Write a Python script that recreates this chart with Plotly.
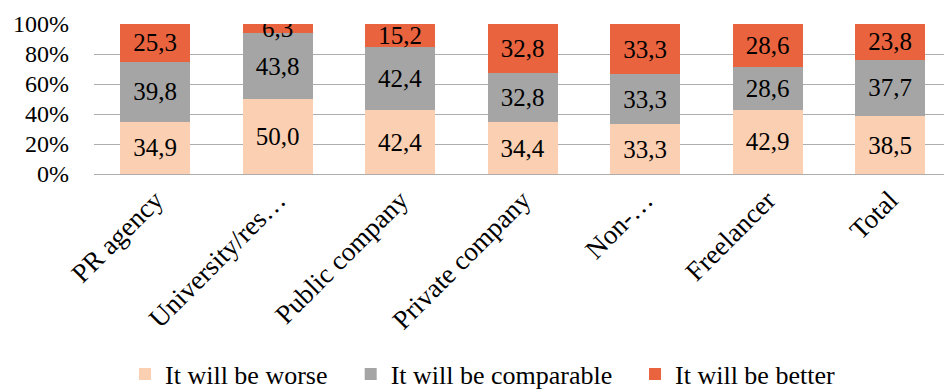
import plotly.graph_objects as go

categories = ["PR agency", "University/res…", "Public company", "Private company",
              "Non-…", "Freelancer", "Total"]
worse = [34.9, 50.0, 42.4, 34.4, 33.3, 42.9, 38.5]
comparable = [39.8, 43.8, 42.4, 32.8, 33.3, 28.6, 37.7]
better = [25.3, 6.3, 15.2, 32.8, 33.3, 28.6, 23.8]
y_ticks = [0, 20, 40, 60, 80, 100]
y_tick_labels = ["0%", "20%", "40%", "60%", "80%", "100%"]

# name, values, colour, legend id, legend x position (plot fraction)
series = [
    ("It will be worse", worse, "#FBCFB1", "legend", 0.0365),
    ("It will be comparable", comparable, "#A5A5A5", "legend2", 0.302),
    ("It will be better", better, "#E9643E", "legend3", 0.6365),
]

FONT = "Liberation Serif"
LEGEND_Y = 0.041  # fraction of the full figure height

fig = go.Figure()
legends = {}
for name, vals, color, leg, lx in series:
    fig.add_trace(go.Bar(
        x=categories, y=vals, name=name, legend=leg,
        marker=dict(color=color, line=dict(width=0)),
        texttemplate="%{y:.1f}", textposition="inside",
        insidetextanchor="middle", textangle=0, constraintext="none",
        textfont=dict(family=FONT, size=25, color="#000000"),
        width=0.57,
    ))
    legends[leg] = dict(orientation="h", x=lx, xanchor="left",
                        y=LEGEND_Y, yref="container", yanchor="middle",
                        font=dict(family=FONT, size=26),
                        itemwidth=30, bgcolor="rgba(0,0,0,0)")

fig.update_layout(
    barmode="stack",
    width=944, height=390,
    margin=dict(l=94, r=0, t=24, b=216, pad=0),
    paper_bgcolor="white", plot_bgcolor="white",
    separators=", ",
    font=dict(family=FONT, size=24, color="#000000"),
    showlegend=True,
    uniformtext=dict(minsize=25, mode="show"),
    **legends,
)
fig.update_xaxes(
    type="category", range=[-0.5, 6.44], tickangle=-45, automargin=False,
    showgrid=False, showline=False, ticks="", ticklabelstandoff=4,
    tickfont=dict(family=FONT, size=27),
)
fig.update_yaxes(
    range=[0, 100], tickmode="array", tickvals=y_ticks, ticktext=y_tick_labels,
    automargin=False,
    showgrid=True, gridcolor="#ADADAD", gridwidth=1,
    zeroline=True, zerolinecolor="#ADADAD", zerolinewidth=1,
    showline=False, ticks="", ticklabelstandoff=24,
    tickfont=dict(family=FONT, size=24),
)

fig.write_html("out.html")
